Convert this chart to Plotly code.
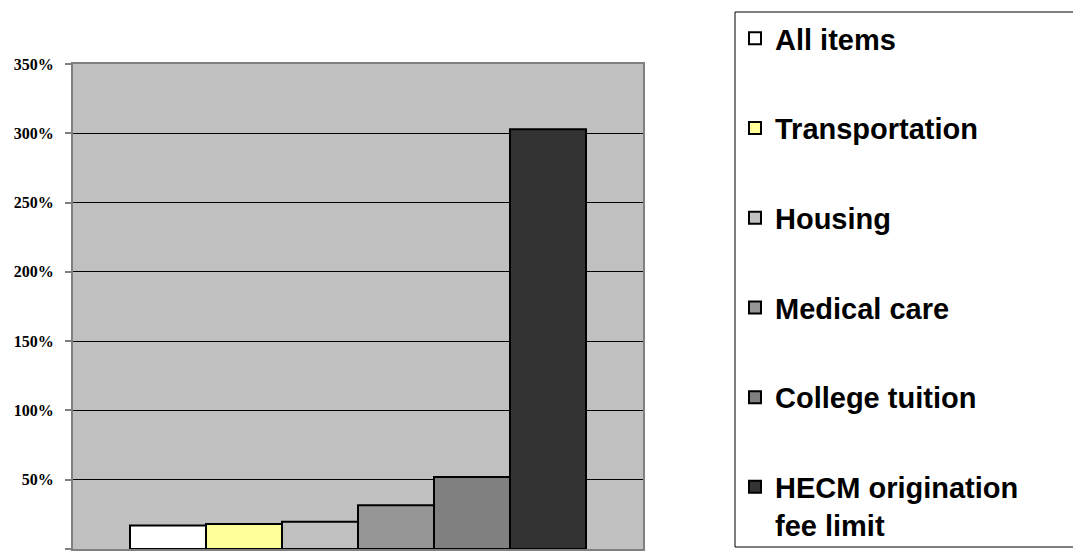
import plotly.graph_objects as go

categories = ["All items", "Transportation", "Housing", "Medical care",
              "College tuition", "HECM origination<br>fee limit"]
values = [17, 18, 19.7, 31.5, 52, 303]
colors = ["#FFFFFF", "#FFFF99", "#C0C0C0", "#969696", "#808080", "#333333"]
y_ticks = [0, 50, 100, 150, 200, 250, 300, 350]
y_tick_labels = [f"{t}%" for t in y_ticks]

# page body has an 8px margin; figure is sized to fit inside the window
W, H = 1073, 544
OFF = 8
PL, PR, PT, PB = 73 - OFF, 643 - OFF, 64 - OFF, 549 - OFF  # plot area in figure px


def px_to_paper_x(X):
    return (X - OFF - PL) / (PR - PL)


def px_to_paper_y(Y):
    return (PB - (Y - OFF)) / (PB - PT)


fig = go.Figure()
for i, (name, v, c) in enumerate(zip(categories, values, colors)):
    fig.add_trace(go.Bar(
        x=["g"], y=[v], name=name, legendgroup=f"g{i}",
        marker=dict(color=c, line=dict(color="#000000", width=2)),
        hoverinfo="skip",
    ))

# legend frame: top, left and bottom edges (it runs off the right of the picture)
frame = dict(type="line", xref="paper", yref="paper",
             line=dict(color="#000000", width=1), layer="above")
fig.add_shape(x0=px_to_paper_x(735), x1=px_to_paper_x(1081 + OFF),
              y0=px_to_paper_y(12), y1=px_to_paper_y(12), **frame)
fig.add_shape(x0=px_to_paper_x(735), x1=px_to_paper_x(1081 + OFF),
              y0=px_to_paper_y(547), y1=px_to_paper_y(547), **frame)
fig.add_shape(x0=px_to_paper_x(735), x1=px_to_paper_x(735),
              y0=px_to_paper_y(12), y1=px_to_paper_y(547), **frame)

fig.update_layout(
    width=W, height=H,
    margin=dict(l=PL, r=W - PR, t=PT, b=H - PB, autoexpand=False),
    paper_bgcolor="#FFFFFF",
    plot_bgcolor="#C0C0C0",
    barmode="group", bargap=0.2, bargroupgap=0,
    showlegend=True,
    legend=dict(
        xref="container", yref="container",
        x=(735 - OFF) / W, y=1 - (13 - OFF) / H, xanchor="left", yanchor="top",
        maxheight=1000,
        bgcolor="rgba(0,0,0,0)", borderwidth=0,
        font=dict(family="Liberation Sans", size=29, color="#000000", weight="bold"),
        traceorder="grouped", tracegroupgap=49, valign="top",
        itemclick=False, itemdoubleclick=False,
    ),
    xaxis=dict(
        range=[-0.5, 0.5], showticklabels=False, ticks="",
        showline=True, linecolor="#808080", linewidth=2, mirror=True,
        showgrid=False, zeroline=False, fixedrange=True,
    ),
    yaxis=dict(
        range=[0, 350], tickmode="array", tickvals=y_ticks, ticktext=y_tick_labels,
        showgrid=True, gridcolor="#000000", gridwidth=1,
        showline=True, linecolor="#808080", linewidth=2, mirror=True,
        ticks="outside", ticklen=6, tickcolor="#808080", tickwidth=2,
        ticklabelstandoff=8,
        tickfont=dict(family="Liberation Serif", size=16, color="#000000", weight="bold"),
        zeroline=False, fixedrange=True,
    ),
)

fig.write_html("out.html")
